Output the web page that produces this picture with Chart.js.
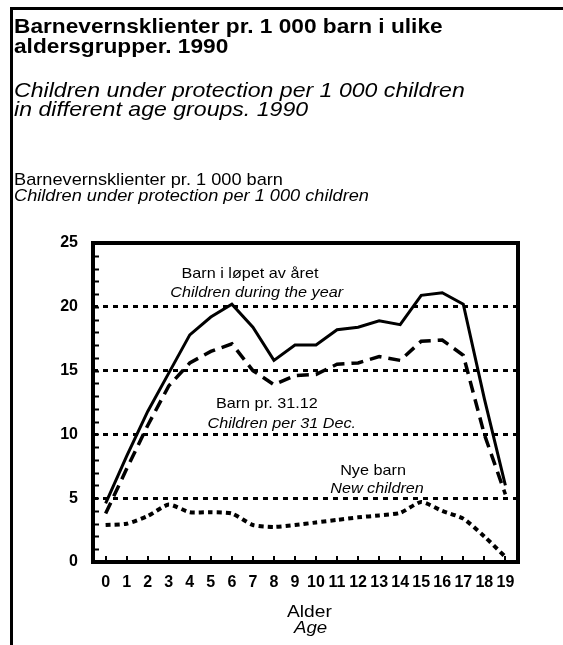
<!DOCTYPE html>
<html>
<head>
<meta charset="utf-8">
<script src="https://cdn.jsdelivr.net/npm/chart.js@4/dist/chart.umd.min.js"></script>
<style>
  body { margin: 0; background: #fff; }
  #wrap { position: relative; width: 563px; height: 645px; overflow: hidden; font-family: "Liberation Sans", Arial, sans-serif; color: #000; }
  #wrap canvas { position: absolute; left: 0; top: 0; }
  .t { position: absolute; white-space: nowrap; transform-origin: 0 0; }
  .frame { position: absolute; left: 10px; top: 7px; width: 560px; height: 650px; border-top: 3px solid #000; border-left: 3px solid #000; }
</style>
</head>
<body>
<div id="wrap">
  <div class="frame"></div>
  <canvas id="chart" width="563" height="645"></canvas>

  <!-- Overskrift -->
  <div class="t" style="left:14px; top:15px; font:bold 21px/21px 'Liberation Sans'; transform:scaleX(1.08)">Barnevernsklienter pr. 1 000 barn i ulike</div>
  <div class="t" style="left:14px; top:35px; font:bold 21px/21px 'Liberation Sans'; transform:scaleX(1.08)">aldersgrupper. 1990</div>
  <div class="t" style="left:14px; top:79px; font:italic 21px/21px 'Liberation Sans'; transform:scaleX(1.1)">Children under protection per 1 000 children</div>
  <div class="t" style="left:14px; top:98px; font:italic 21px/21px 'Liberation Sans'; transform:scaleX(1.1)">in different age groups. 1990</div>

  <!-- Aksetittel -->
  <div class="t" style="left:14px; top:171px; font:17px/17px 'Liberation Sans'; transform:scaleX(1.07)">Barnevernsklienter pr. 1 000 barn</div>
  <div class="t" style="left:14px; top:187px; font:italic 17px/17px 'Liberation Sans'; transform:scaleX(1.07)">Children under protection per 1 000 children</div>

  <!-- x-aksetittel -->
  <div class="t" style="left:287px; top:603px; font:17px/17px 'Liberation Sans'; transform:scaleX(1.13)">Alder</div>
  <div class="t" style="left:294px; top:619px; font:italic 17px/17px 'Liberation Sans'; transform:scaleX(1.1)">Age</div>
</div>

<script>
// Alder (kategorier)
const ages = [0, 1, 2, 3, 4, 5, 6, 7, 8, 9, 10, 11, 12, 13, 14, 15, 16, 17, 18, 19];

// Barn i løpet av året / Children during the year
const duringYear = [4.6, 8.3, 11.8, 14.8, 17.8, 19.2, 20.2, 18.4, 15.8, 17.0, 17.0, 18.2, 18.4, 18.9, 18.6, 20.9, 21.1, 20.2, 12.8, 6.0];

// Barn pr. 31.12 / Children per 31 Dec.
const per31Dec = [3.8, 7.3, 10.7, 13.8, 15.6, 16.5, 17.1, 15.0, 13.9, 14.6, 14.7, 15.5, 15.6, 16.1, 15.8, 17.3, 17.4, 16.2, 10.0, 5.3];

// Nye barn / New children
const newChildren = [2.9, 3.0, 3.6, 4.5, 3.9, 3.9, 3.8, 2.9, 2.75, 2.9, 3.1, 3.3, 3.5, 3.65, 3.85, 4.7, 4.0, 3.4, 2.0, 0.4];

// y-akse
const yTicks = [0, 1, 2, 3, 4, 5, 6, 7, 8, 9, 10, 11, 12, 13, 14, 15, 16, 17, 18, 19, 20, 21, 22, 23, 24, 25];
const yLabelled = [0, 5, 10, 15, 20, 25];
const yGrid = [5, 10, 15, 20];

// Tekst inne i diagrammet, plassert i dataenheter (alder, verdi)
const notes = [
  { text: 'Barn i løpet av året', x: 6.86, y: 22.26, italic: false },
  { text: 'Children during the year', x: 7.18, y: 20.77, italic: true },
  { text: 'Barn pr. 31.12', x: 7.66, y: 12.07, italic: false },
  { text: 'Children per 31 Dec.', x: 8.37, y: 10.5, italic: true },
  { text: 'Nye barn', x: 12.71, y: 6.82, italic: false },
  { text: 'New children', x: 12.9, y: 5.41, italic: true }
];

function points(values) {
  return ages.map((a, i) => ({ x: a, y: values[i] }));
}

// Ramme, tikkmerker og tekst i plottet
const framePlugin = {
  id: 'frame',
  afterDatasetsDraw(chart) {
    const ctx = chart.ctx;
    const a = chart.chartArea;
    const xs = chart.scales.x;
    const ys = chart.scales.y;
    ctx.save();
    ctx.strokeStyle = '#000';
    ctx.lineWidth = 2;
    ys.ticks.forEach(t => {
      const py = Math.round(ys.getPixelForValue(t.value)) + 0.5;
      ctx.beginPath();
      ctx.moveTo(a.left, py);
      ctx.lineTo(a.left + 6, py);
      ctx.stroke();
    });
    xs.ticks.forEach(t => {
      const px = Math.round(xs.getPixelForValue(t.value));
      ctx.beginPath();
      ctx.moveTo(px, a.bottom);
      ctx.lineTo(px, a.bottom - 6);
      ctx.stroke();
    });
    ctx.lineWidth = 4;
    ctx.strokeRect(a.left, a.top, a.right - a.left, a.bottom - a.top);

    ctx.fillStyle = '#000';
    ctx.textAlign = 'center';
    ctx.textBaseline = 'alphabetic';
    notes.forEach(n => {
      ctx.save();
      ctx.translate(xs.getPixelForValue(n.x), ys.getPixelForValue(n.y));
      ctx.scale(1.08, 1);
      ctx.font = (n.italic ? 'italic ' : '') + '15px "Liberation Sans"';
      ctx.fillText(n.text, 0, 0);
      ctx.restore();
    });
    ctx.restore();
  }
};

const ctx = document.getElementById('chart').getContext('2d');

const myChart = new Chart(ctx, {
  type: 'line',
  data: {
    datasets: [
      {
        label: 'Barn i løpet av året',
        data: points(duringYear),
        borderColor: '#000',
        borderWidth: 3,
        pointRadius: 0,
        tension: 0
      },
      {
        label: 'Barn pr. 31.12',
        data: points(per31Dec),
        borderColor: '#000',
        borderWidth: 3.5,
        borderDash: [12, 7],
        pointRadius: 0,
        tension: 0
      },
      {
        label: 'Nye barn',
        data: points(newChildren),
        borderColor: '#000',
        borderWidth: 4,
        borderDash: [5, 4],
        pointRadius: 0,
        tension: 0.2
      }
    ]
  },
  options: {
    responsive: false,
    animation: false,
    devicePixelRatio: 1,
    layout: { padding: { left: 0, top: 243, right: 45, bottom: 0 } },
    plugins: {
      legend: { display: false },
      tooltip: { enabled: false }
    },
    scales: {
      x: {
        type: 'linear',
        min: -0.6,
        max: 19.6,
        afterBuildTicks: s => { s.ticks = ages.map(a => ({ value: a })); },
        afterFit: s => { s.height = 83; },
        grid: { display: false, drawTicks: false },
        border: { display: false },
        ticks: {
          color: '#000',
          padding: 11,
          autoSkip: false,
          maxRotation: 0,
          font: { family: 'Liberation Sans', size: 16, weight: 'bold' },
          callback: v => String(v)
        }
      },
      y: {
        min: 0,
        max: 25,
        afterBuildTicks: s => { s.ticks = yTicks.map(v => ({ value: v })); },
        afterFit: s => { s.width = 93; },
        grid: {
          drawTicks: false,
          lineWidth: 3,
          color: c => yGrid.includes(c.tick.value) ? '#000' : 'rgba(0,0,0,0)'
        },
        border: { display: false, dash: [5, 5] },
        ticks: {
          color: '#000',
          padding: 15,
          autoSkip: false,
          font: { family: 'Liberation Sans', size: 16, weight: 'bold' },
          callback: v => yLabelled.includes(v) ? String(v) : ''
        }
      }
    }
  },
  plugins: [framePlugin]
});
</script>
</body>
</html>
